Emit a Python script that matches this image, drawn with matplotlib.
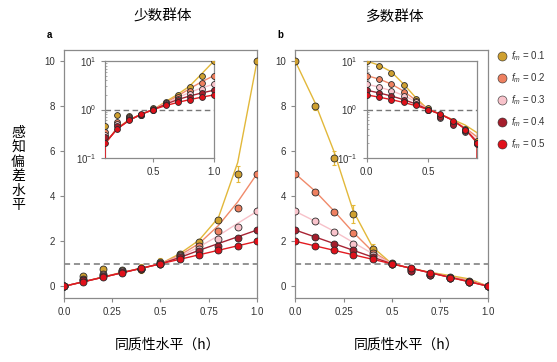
import matplotlib
matplotlib.use("Agg")
import matplotlib.pyplot as plt

plt.rcParams['font.family'] = ['Liberation Sans', 'Noto Sans CJK SC', 'DejaVu Sans']
plt.rcParams['mathtext.fontset'] = 'custom'
plt.rcParams['mathtext.rm'] = 'Liberation Sans'
plt.rcParams['mathtext.it'] = 'Liberation Sans:italic'

# --- Daten ---
h = [0.0, 0.1, 0.2, 0.3, 0.4, 0.5, 0.6, 0.7, 0.8, 0.9, 1.0]
fm_labels = ['0.1', '0.2', '0.3', '0.4', '0.5']

# Minderheit (a): Simulation (Punkte)
min_pts = [
    [0, 0.45, 0.76, 0.72, 0.78, 1.07, 1.45, 1.95, 2.95, 5.0, 10.0],
    [0, 0.34, 0.56, 0.70, 0.78, 1.03, 1.38, 1.80, 2.45, 3.5, 5.0],
    [0, 0.30, 0.50, 0.68, 0.78, 1.0, 1.35, 1.65, 2.10, 2.65, 3.33],
    [0, 0.27, 0.45, 0.65, 0.78, 1.0, 1.30, 1.55, 1.80, 2.15, 2.5],
    [0, 0.20, 0.40, 0.60, 0.80, 1.0, 1.22, 1.40, 1.60, 1.80, 2.0],
]
# Minderheit (a): Theorie (Linien)
min_lines = [
    [0, 0.20, 0.41, 0.62, 0.80, 1.0, 1.45, 2.05, 3.05, 5.5, 10.0],
    [0, 0.20, 0.40, 0.61, 0.80, 1.0, 1.38, 1.90, 2.70, 3.75, 5.0],
    [0, 0.20, 0.40, 0.60, 0.80, 1.0, 1.33, 1.75, 2.25, 2.80, 3.33],
    [0, 0.20, 0.40, 0.60, 0.80, 1.0, 1.28, 1.60, 1.90, 2.20, 2.5],
    [0, 0.20, 0.40, 0.60, 0.80, 1.0, 1.20, 1.40, 1.60, 1.80, 2.0],
]
min_err = [0, 0.05, 0.05, 0.05, 0.2, 0.2, 0.1, 0.15, 0.1, 0.35, 0]

# Mehrheit (b): Simulation (Punkte)
maj_pts = [
    [10.0, 8.0, 5.7, 3.2, 1.66, 1.05, 0.78, 0.55, 0.40, 0.22, 0.0],
    [5.0, 4.2, 3.3, 2.35, 1.50, 1.0, 0.75, 0.52, 0.37, 0.20, 0.0],
    [3.33, 2.9, 2.4, 1.9, 1.40, 1.0, 0.68, 0.50, 0.35, 0.20, 0.0],
    [2.5, 2.2, 1.9, 1.6, 1.30, 1.0, 0.70, 0.48, 0.36, 0.19, 0.0],
    [2.0, 1.8, 1.6, 1.4, 1.22, 1.0, 0.80, 0.58, 0.38, 0.20, 0.0],
]
# Mehrheit (b): Theorie (Linien)
maj_lines = [
    [10.0, 8.2, 6.0, 3.35, 1.75, 1.0, 0.80, 0.62, 0.48, 0.33, 0.0],
    [5.0, 4.25, 3.35, 2.40, 1.55, 1.0, 0.80, 0.60, 0.42, 0.27, 0.0],
    [3.33, 2.9, 2.45, 1.95, 1.45, 1.0, 0.80, 0.60, 0.41, 0.23, 0.0],
    [2.5, 2.2, 1.9, 1.6, 1.30, 1.0, 0.80, 0.60, 0.40, 0.21, 0.0],
    [2.0, 1.8, 1.6, 1.4, 1.20, 1.0, 0.80, 0.60, 0.40, 0.20, 0.0],
]
maj_err = [0, 0.15, 0.3, 0.4, 0.2, 0.05, 0.05, 0.05, 0.05, 0.05, 0]

face_cols = ['#CFA030', '#EE8060', '#F8C3CB', '#A51E2C', '#E0101A']
line_cols = ['#E2B83A', '#F08A6A', '#F7C0C8', '#A82333', '#E21A20']

SPINE = '#8a8a8a'
TXT = '#333333'


def style_axes(ax, fs=7):
    for s in ax.spines.values():
        s.set_color(SPINE)
        s.set_linewidth(0.9)
    ax.tick_params(colors=SPINE, labelcolor=TXT, labelsize=fs, length=3, width=0.8)
    ax.tick_params(which='minor', colors=SPINE, length=1.5, width=0.5)


def draw_series(ax, pts, lines, err, ms, lw, zorder_base=2):
    for i in range(len(pts)):
        ax.plot(h, lines[i], color=line_cols[i], lw=lw, zorder=zorder_base + i)
    for i in range(len(pts)):
        if i == 0 and err is not None:
            ax.errorbar(h, pts[i], yerr=err, fmt='none', ecolor=line_cols[i],
                        elinewidth=0.9, capsize=1.5, capthick=0.8, zorder=zorder_base + 6)
        ax.plot(h, pts[i], 'o', ms=ms, mfc=face_cols[i], mec='#2a2a2a', mew=0.6,
                ls='none', zorder=zorder_base + 7 + i)


fig = plt.figure(figsize=(5.57, 3.62), dpi=100)

main_pos = [[0.1149, 0.1768, 0.3465, 0.685], [0.5302, 0.1768, 0.3465, 0.685]]
inset_pos = [[0.1885, 0.5635, 0.1957, 0.268], [0.6583, 0.5635, 0.1986, 0.268]]
pts_all = [min_pts, maj_pts]
lines_all = [min_lines, maj_lines]
err_all = [min_err, maj_err]
inset_xlim = [(0.1, 1.0), (0.0, 0.9)]
inset_xticks = [[0.5, 1.0], [0.0, 0.5]]

for k in range(2):
    ax = fig.add_axes(main_pos[k])
    ax.axhline(1.0, color='#777777', ls='--', lw=1.1, dashes=(4, 2.5), zorder=1)
    draw_series(ax, pts_all[k], lines_all[k], err_all[k], ms=5, lw=1.0)
    ax.set_xlim(0, 1)
    ax.set_ylim(-0.52, 10.5)
    ax.set_xticks([0, 0.25, 0.5, 0.75, 1.0])
    ax.set_xticklabels(['0.0', '0.25', '0.5', '0.75', '1.0'])
    ax.set_yticks([0, 2, 4, 6, 8, 10])
    style_axes(ax, 7)

    ins = fig.add_axes(inset_pos[k])
    ins.axhline(1.0, color='#777777', ls='--', lw=1.0, dashes=(4, 2.5), zorder=1)
    draw_series(ins, pts_all[k], lines_all[k], None, ms=4.2, lw=1.0)
    ins.set_yscale('log')
    ins.set_ylim(0.1, 10)
    ins.set_xlim(*inset_xlim[k])
    ins.set_xticks(inset_xticks[k])
    ins.set_xticklabels([f'{v:.1f}' for v in inset_xticks[k]])
    style_axes(ins, 7)
    ins.tick_params(which='minor', direction='in', length=1.5)

# Legende
handles = []
for i in range(5):
    hnd = plt.Line2D([], [], marker='o', ms=6.5, mfc=face_cols[i], mec='#2a2a2a',
                     mew=0.4, ls='none')
    handles.append(hnd)
fig.legend(handles, [f'$f_m$ = {v}' for v in fm_labels], loc='upper left',
           bbox_to_anchor=(0.886, 0.875), frameon=False, fontsize=7,
           labelspacing=0.85, handlelength=1.0, handletextpad=0.35,
           borderaxespad=0, labelcolor=TXT)

cjk = ['Noto Sans CJK SC', 'DejaVu Sans']
fig.text(163 / 557, 1 - 17 / 362, '少数群体', ha='center', va='center',
         fontsize=10.5, family=cjk)
fig.text(395 / 557, 1 - 17 / 362, '多数群体', ha='center', va='center',
         fontsize=10.5, family=cjk)
fig.text(49 / 557, 1 - 35 / 362, 'a', ha='center', va='center', fontsize=7,
         fontweight='bold')
fig.text(280 / 557, 1 - 35 / 362, 'b', ha='center', va='center', fontsize=7,
         fontweight='bold')
fig.text(18 / 557, 1 - 169 / 362, '\n'.join('感知偏差水平'), ha='center',
         va='center', fontsize=10, family=cjk, linespacing=1.05)
fig.text(168 / 557, 1 - 345 / 362, '同质性水平（h）', ha='center', va='center',
         fontsize=10, family=cjk)
fig.text(407 / 557, 1 - 345 / 362, '同质性水平（h）', ha='center', va='center',
         fontsize=10, family=cjk)

fig.savefig('out.png', dpi=100)
